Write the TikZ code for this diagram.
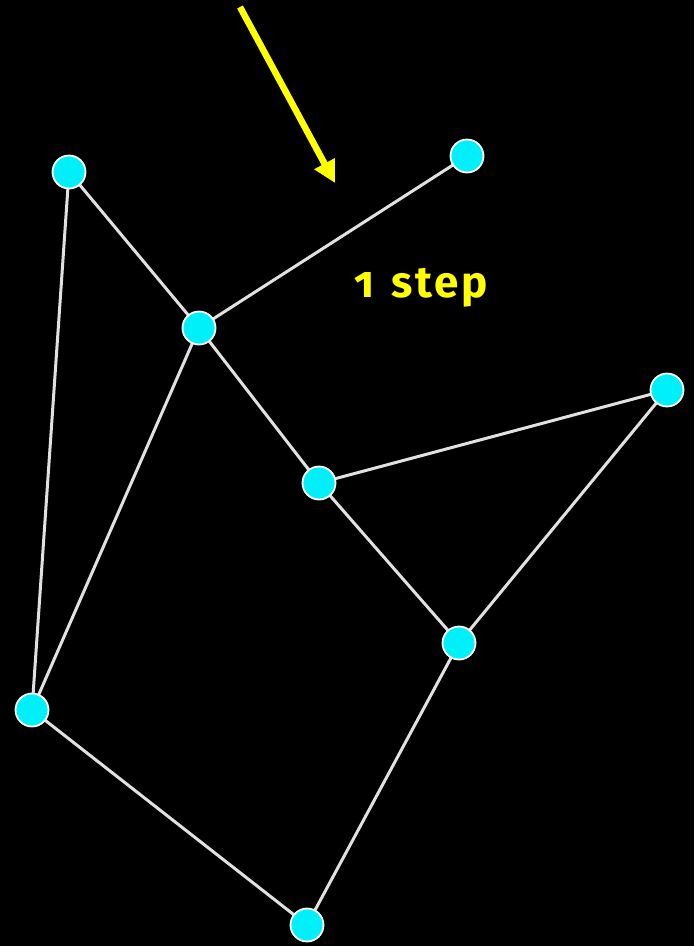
\documentclass[tikz,border=0pt]{standalone}
\usepackage{fontspec}
\setmainfont{Fira Sans}[Numbers=OldStyle]
\newfontfamily\labelfont{Fira Sans}[Numbers=OldStyle, LetterSpace=6]
\usetikzlibrary{arrows.meta}
\definecolor{nodecyan}{RGB}{0,240,250}
\definecolor{edgegray}{RGB}{225,225,225}
\definecolor{hiyellow}{RGB}{255,255,0}
\tikzset{
  vertex/.style={circle, fill=nodecyan, draw=white, line width=1.8pt, minimum size=33pt, inner sep=0pt},
  link/.style={draw=edgegray, line width=3pt},
  pointer/.style={draw=hiyellow, line width=6.5pt, -{Triangle[length=22pt,width=22pt]}},
}
\begin{document}
\begin{tikzpicture}[x=1pt,y=-1pt]
  \fill[black] (0,0) rectangle (694,946);
  \useasboundingbox (0,0) rectangle (694,946);
  % vertices
  \coordinate (pa) at (69,172);
  \coordinate (pb) at (467,156);
  \coordinate (pc) at (199,328);
  \coordinate (pd) at (667,390);
  \coordinate (pe) at (319,483);
  \coordinate (pf) at (459,643);
  \coordinate (pg) at (32,710);
  \coordinate (ph) at (307,925);
  % edges
  \draw[link] (pa) -- (pc);
  \draw[link] (pa) -- (pg);
  \draw[link] (pc) -- (pb);
  \draw[link] (pc) -- (pe);
  \draw[link] (pc) -- (pg);
  \draw[link] (pe) -- (pd);
  \draw[link] (pe) -- (pf);
  \draw[link] (pd) -- (pf);
  \draw[link] (pf) -- (ph);
  \draw[link] (pg) -- (ph);
  \foreach \v in {pa,pb,pc,pd,pe,pf,pg,ph}
    \node[vertex] (n\v) at (\v) {};
  % pointer and label
  \coordinate (tail) at (240,7);
  \coordinate (tip) at (335,183);
  \draw[pointer] (tail) -- (tip);
  \node[anchor=base, text=hiyellow, font=\labelfont\fontsize{44}{52}\selectfont\bfseries, inner sep=0pt] (lbl) at (421,297) {1\hspace{4pt} step};
\end{tikzpicture}
\end{document}
